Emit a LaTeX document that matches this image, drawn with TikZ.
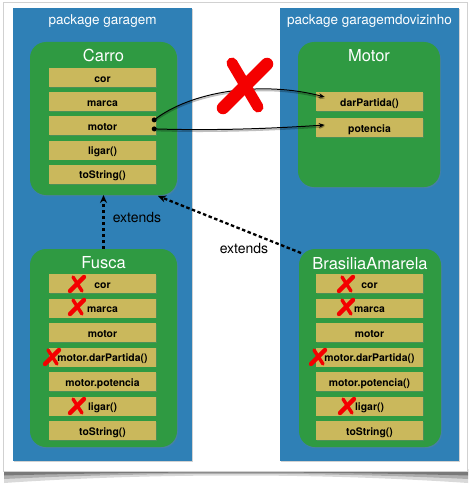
\documentclass[tikz,border=0pt]{standalone}
\usepackage{fontspec}
\setmainfont{TeX Gyre Heros}
\usetikzlibrary{arrows.meta,shadows,calc}
\definecolor{pkgblue}{HTML}{2F80B6}
\definecolor{clsgreen}{HTML}{2F9A42}
\definecolor{memkhaki}{HTML}{CAB85C}
\definecolor{xred}{HTML}{F40000}
\begin{document}
\begin{tikzpicture}[x=1pt,y=-1pt,
  pkg/.style={fill=pkgblue, inner sep=0, outer sep=0,
    drop shadow={shadow xshift=0.8pt,shadow yshift=-1.2pt,opacity=0.35}},
  cls/.style={fill=clsgreen, rounded corners=16pt, inner sep=0, outer sep=0,
    drop shadow={shadow xshift=0.8pt,shadow yshift=-1.2pt,opacity=0.3}},
  mem/.style={fill=memkhaki, minimum width=107, minimum height=19, inner sep=0,
    text height=11pt, text depth=2pt,
    font=\fontsize{10.4}{12}\bfseries\selectfont,
    drop shadow={shadow xshift=0.6pt,shadow yshift=-0.8pt,opacity=0.35}},
  pkgtitle/.style={text=white, anchor=base, font=\fontsize{13.5}{16}\selectfont},
  clstitle/.style={text=white, anchor=base, font=\fontsize{16.5}{19}\selectfont},
  extlabel/.style={anchor=base, font=\fontsize{14}{17}\selectfont},
  inh/.style={line width=2.3pt, dash pattern=on 3.5pt off 2.5pt,
    -{Stealth[length=8pt,width=7pt]}},
  conn/.style={line width=1pt, -{Stealth[length=6pt,width=4.5pt]},
    preaction={draw=black, opacity=0.25, line width=1.6pt, transform canvas={yshift=-1.6pt}}},
  xstroke/.style={draw=xred, line cap=round},
  redx/.pic={\draw[xstroke,line width=3.4pt] (-4,-7) -- (5,7);
             \draw[xstroke,line width=4.4pt] (7,-7) -- (-7,7);}
]
\useasboundingbox (0,0) rectangle (472,487);
% frame with shadow
\fill[black,opacity=0.15] (4,469) -- (4,483) .. controls (150,473) and (322,473) .. (468,483) -- (468,469) -- cycle;
\fill[black,opacity=0.2] (4,469) -- (4,479) .. controls (150,472) and (322,472) .. (468,479) -- (468,469) -- cycle;
\fill[black,opacity=0.3] (4,469) -- (4,475.5) .. controls (150,471.5) and (322,471.5) .. (468,475.5) -- (468,469) -- cycle;
\filldraw[fill=white, draw=black!18, line width=0.6pt] (3,2) rectangle (467,471);

% packages
\node[pkg, minimum width=179, minimum height=453] (pkgL) at (102.5,234.5) {};
\node[pkg, minimum width=179, minimum height=453] (pkgR) at (369.5,234.5) {};
\node[pkgtitle] (pkgLt) at (102.5,25) {package garagem};
\node[pkgtitle] (pkgRt) at (369.5,25) {package garagemdovizinho};

% Carro
\node[cls, minimum width=147, minimum height=153] (carro) at (103.5,118.5) {};
\node[clstitle] (carroT) at (103.5,62) {Carro};
\node[mem] (ccor) at (102.5,77.5) {cor};
\node[mem] (cmarca) at (102.5,101.7) {marca};
\node[mem] (cmotor) at (102.5,125.9) {motor};
\node[mem] (cligar) at (102.5,150.1) {ligar()};
\node[mem] (ctostr) at (102.5,174.3) {toString()};

% Motor
\node[cls, minimum width=142, minimum height=145] (motor) at (369,114.5) {};
\node[clstitle] (motorT) at (369,62) {Motor};
\node[mem] (mdar) at (369.5,101.5) {darPartida()};
\node[mem] (mpot) at (369.5,127.5) {potencia};

% Fusca
\node[cls, minimum width=147, minimum height=198] (fusca) at (103.5,348) {};
\node[clstitle] (fuscaT) at (103.5,268) {Fusca};
\node[mem] (fcor) at (102.5,283.5) {cor};
\node[mem] (fmarca) at (102.5,308) {marca};
\node[mem] (fmotor) at (102.5,332.5) {motor};
\node[mem] (fdar) at (102.5,357) {motor.darPartida()};
\node[mem] (fpot) at (102.5,381.5) {motor.potencia};
\node[mem] (fligar) at (102.5,406) {ligar()};
\node[mem] (ftostr) at (102.5,430.5) {toString()};

% BrasiliaAmarela
\node[cls, minimum width=142, minimum height=198] (bras) at (370,348) {};
\node[clstitle] (brasT) at (370,269) {BrasiliaAmarela};
\node[mem] (bcor) at (369.5,283.5) {cor};
\node[mem] (bmarca) at (369.5,308) {marca};
\node[mem] (bmotor) at (369.5,332.5) {motor};
\node[mem] (bdar) at (369.5,357) {motor.darPartida()};
\node[mem] (bpot) at (369.5,381.5) {motor.potencia()};
\node[mem] (bligar) at (369.5,406) {ligar()};
\node[mem] (btostr) at (369.5,430.5) {toString()};

% red crosses on members
\pic at ($(fcor.center)+(-25.5,0.5)$) {redx};
\pic at ($(fmarca.center)+(-25.5,-1)$) {redx};
\pic at ($(fdar.center)+(-50.5,0)$) {redx};
\pic at ($(fligar.center)+(-25.5,0)$) {redx};
\pic at ($(bcor.center)+(-23.5,0.5)$) {redx};
\pic at ($(bmarca.center)+(-23.5,-1)$) {redx};
\pic at ($(bdar.center)+(-51.5,0)$) {redx};
\pic at ($(bligar.center)+(-22.5,0)$) {redx};

% association connectors
\coordinate (d1) at ($(cmotor.east)+(-2,-6)$);
\coordinate (d2) at ($(cmotor.east)+(-2,3)$);
\coordinate (t1) at ($(mdar.west)+(9,-4.5)$);
\coordinate (t2) at ($(mpot.west)+(9,-2.5)$);
\draw[conn] (d1) .. controls (190,92) and (260,80) .. (t1);
\draw[conn] (d2) .. controls (220,131) and (280,128) .. (t2);
\fill (d1) circle (2.5);
\fill (d2) circle (2.5);

% big red cross
\draw[xstroke, line width=11pt] (232,63) -- (258,107);
\draw[xstroke, line width=12.5pt] (267,64) -- (223,108);

% extends
\coordinate (e2s) at (301,253);
\coordinate (e2t) at ($(carro.south east)+(-19,1)$);
\draw[inh] (fusca.north) -- (carro.south);
\draw[inh] (e2s) -- (e2t);
\node[extlabel] (ext1) at (137,222) {extends};
\node[extlabel] (ext2) at (244,253) {extends};
\end{tikzpicture}
\end{document}
